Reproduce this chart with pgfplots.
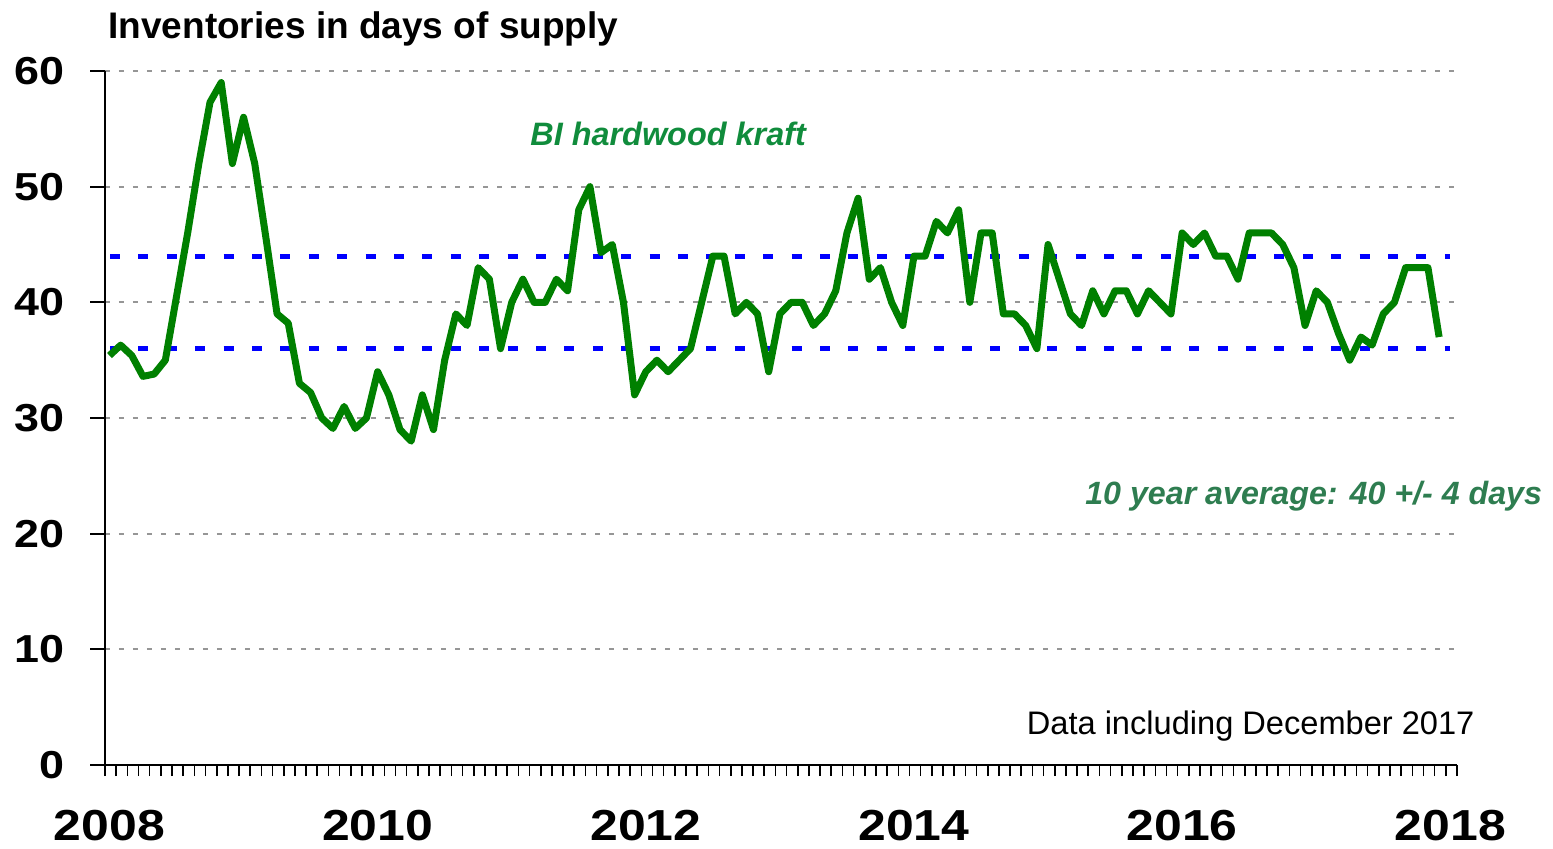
\documentclass[border=0pt]{standalone}
\usepackage{fontspec}
\setmainfont{Liberation Sans}
\newfontfamily\widefont[FakeStretch=1.15]{Liberation Sans}
\usepackage{pgfplots}
\usepackage{pgfplotstable}
\pgfplotsset{compat=1.18}
\definecolor{lgreen}{RGB}{0,128,0}
\definecolor{tgreen}{RGB}{16,140,60}
\definecolor{agreen}{RGB}{46,125,80}
\definecolor{gridgray}{RGB}{150,150,150}
\pgfplotstableread{
v
35.4
36.3
35.4
33.6
33.8
35
40.5
46
52
57.3
59
52
56
52
45.6
39
38.2
33
32.2
30
29.1
31
29.1
30
34
32
29
28
32
29
35
39
38
43
42
36
40
42
40
40
42
41
48
50
44.3
45
40
32
34
35
34
35
36
40
44
44
39
40
39
34
39
40
40
38
39
41
46
49
42
43
40
38
44
44
47
46
48
40
46
46
39
39
38
36
45
42
39
38
41
39
41
41
39
41
40
39
46
45
46
44
44
42
46
46
46
45
43
38
41
40
37.3
35
37
36.3
39
40
43
43
43
37
}\datatable
\begin{document}
\begin{tikzpicture}
\useasboundingbox (-52.5pt,-41.5pt) rectangle (724pt,382.5pt);
\begin{axis}[
  at={(0pt,0pt)}, anchor=south west,
  width=676pt, height=347pt, scale only axis,
  xmin=0, xmax=121, ymin=0, ymax=60,
  axis x line=bottom, axis y line=left,
  axis line style={-, line width=1pt, black},
  clip=false,
  tick align=outside,
  major tick length=7.5pt,
  minor tick length=5.5pt,
  ytick={0,10,...,60},
  yticklabels={0,10,20,30,40,50,60},
  ytick style={line width=1pt, black},
  xtick={0.4,24.4,48.4,72.4,96.4,120.4},
  xticklabels={2008,2010,2012,2014,2016,2018},
  major x tick style={draw=none},
  minor xtick={0,...,121},
  minor x tick style={line width=0.8pt, black},
  ymajorgrids,
  grid style={color=gridgray, line width=1pt, dash pattern=on 2.5pt off 4.5pt},
  yticklabel style={font=\widefont\bfseries\fontsize{19.5}{20}\selectfont, inner sep=0pt, anchor=east, xshift=-12.5pt},
  xticklabel style={font=\widefont\bfseries\fontsize{21.7}{22}\selectfont, inner sep=0pt, anchor=north, yshift=-15pt},
]
\addplot[blue, line width=2.5pt, dash pattern=on 5pt off 9.2pt] coordinates {(0.45,44) (120.4,44)};
\addplot[blue, line width=2.5pt, dash pattern=on 5pt off 9.2pt] coordinates {(0.45,36) (120.4,36)};
\addplot[lgreen, line width=3.5pt, line join=round] table[x expr=\coordindex+0.4, y=v] {\datatable};
\node[anchor=west, inner sep=0pt, font=\bfseries\fontsize{18.5}{19}\selectfont] at (axis cs:0.27,63.6) {Inventories in days of supply};
\node[anchor=center, inner sep=0pt, text=tgreen, font=\bfseries\itshape\fontsize{16.2}{17}\selectfont] at (axis cs:50.4,54.6) {BI hardwood kraft};
\node[anchor=west, inner sep=0pt, text=agreen, font=\bfseries\itshape\fontsize{16.1}{17}\selectfont] at (axis cs:87.7,23.2) {10 year average: 40 +/- 4 days};
\node[anchor=east, inner sep=0pt, font=\fontsize{16.3}{17}\selectfont] at (axis cs:122.6,3.4) {Data including December 2017};
\end{axis}
\end{tikzpicture}
\end{document}
